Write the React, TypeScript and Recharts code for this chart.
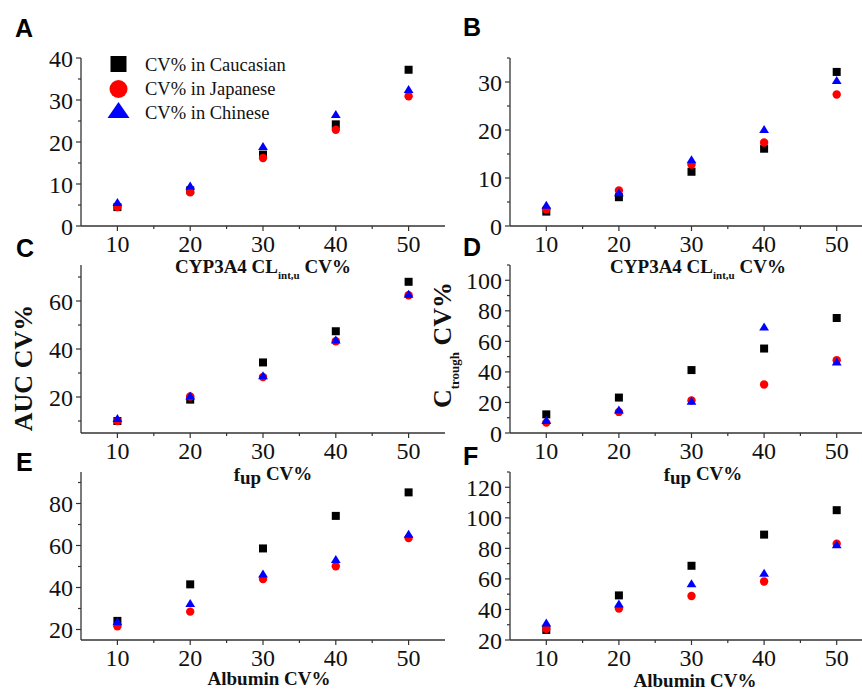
import React from "react";
import { ScatterChart, Scatter, XAxis, YAxis, Legend } from "recharts";

// shared x: CV% levels of the varied parameter
const cvLevels = [10, 20, 30, 40, 50];
const xTickValues = [10, 15, 20, 25, 30, 35, 40, 45, 50];
const xMajorTicks = [10, 20, 30, 40, 50];

// A: CYP3A4 CLint,u -> AUC CV%
const aCaucasian = [4.5, 8.5, 17.0, 24.2, 37.2];
const aJapanese = [4.5, 8.0, 16.2, 22.9, 30.9];
const aChinese = [5.5, 9.4, 18.8, 26.4, 32.4];
const aYTicks = [0, 5, 10, 15, 20, 25, 30, 35, 40];
const aYMajor = [0, 10, 20, 30, 40];

// B: CYP3A4 CLint,u -> Ctrough CV%
const bCaucasian = [3.0, 6.0, 11.3, 16.1, 32.1];
const bJapanese = [3.5, 7.4, 12.8, 17.4, 27.4];
const bChinese = [4.2, 6.8, 13.7, 20.0, 30.2];
const bYTicks = [0, 5, 10, 15, 20, 25, 30, 35];
const bYMajor = [0, 10, 20, 30];

// C: fup -> AUC CV%
const cCaucasian = [10.0, 18.9, 34.4, 47.4, 68.0];
const cJapanese = [10.0, 20.2, 28.3, 43.2, 62.4];
const cChinese = [10.8, 20.2, 28.6, 43.5, 62.6];
const cYTicks = [10, 20, 30, 40, 50, 60, 70];
const cYMajor = [20, 40, 60];

// D: fup -> Ctrough CV%
const dCaucasian = [12.2, 23.2, 41.2, 55.3, 75.3];
const dJapanese = [6.8, 13.8, 21.3, 31.8, 47.6];
const dChinese = [7.8, 14.8, 20.4, 69.0, 46.2];
const dYTicks = [0, 10, 20, 30, 40, 50, 60, 70, 80, 90, 100, 110];
const dYMajor = [0, 20, 40, 60, 80, 100];

// E: Albumin -> AUC CV%
const eCaucasian = [24.1, 41.5, 58.6, 74.1, 85.3];
const eJapanese = [21.5, 28.5, 44.0, 50.1, 63.6];
const eChinese = [23.4, 32.2, 46.2, 53.1, 65.1];
const eYTicks = [20, 30, 40, 50, 60, 70, 80, 90];
const eYMajor = [20, 40, 60, 80];

// F: Albumin -> Ctrough CV%
const fCaucasian = [26.6, 49.2, 68.6, 89.0, 105.0];
const fJapanese = [27.3, 40.6, 48.8, 58.3, 83.0];
const fChinese = [30.8, 43.2, 56.5, 63.4, 82.0];
const fYTicks = [20, 30, 40, 50, 60, 70, 80, 90, 100, 110, 120, 130];
const fYMajor = [20, 40, 60, 80, 100, 120];

const seriesNames = ["CV% in Caucasian", "CV% in Japanese", "CV% in Chinese"];

const AXIS = "#333";
const INK = "#111";
const SERIF = '"Liberation Serif", "Times New Roman", serif';
const SANS = '"Liberation Sans", Arial, sans-serif';

const Y_W = 70;
const M_TOP = 12;
const M_RIGHT = 12;
const X_H = 40;
const PLOT_H = 168;

const toPoints = (vals: number[]) => cvLevels.map((x, i) => ({ x, y: vals[i] }));

const Square = (p: any) => <rect x={p.cx - 4} y={p.cy - 4} width={8} height={8} fill="#000" />;
const Dot = (p: any) => <circle cx={p.cx} cy={p.cy} r={4.2} fill="#ff0000" />;
const Tri = (p: any) => (
  <polygon points={`${p.cx},${p.cy - 5} ${p.cx - 4.9},${p.cy + 3} ${p.cx + 4.9},${p.cy + 3}`} fill="#0000ff" />
);
const shapes = [Square, Dot, Tri];

const tickText = { fontFamily: SERIF, fontSize: 24, fontWeight: 400, fill: INK } as const;

const renderXTick = (p: any) => {
  const v = p.payload.value;
  const major = xMajorTicks.includes(v);
  return (
    <g>
      <line x1={p.x} x2={p.x} y1={p.y} y2={p.y + (major ? 5 : 3)} stroke={AXIS} strokeWidth={1.2} />
      {major && (
        <text x={p.x} y={p.y + 26} textAnchor="middle" fontFamily="Liberation Serif" style={tickText}>
          {v}
        </text>
      )}
    </g>
  );
};

const makeYTick = (majors: number[]) => (p: any) => {
  const v = p.payload.value;
  const major = majors.includes(v);
  return (
    <g>
      <line x1={p.x - (major ? 5 : 3)} x2={p.x} y1={p.y} y2={p.y} stroke={AXIS} strokeWidth={1.2} />
      {major && (
        <text x={p.x - 8} y={p.y + 8.5} textAnchor="end" fontFamily="Liberation Serif" style={tickText}>
          {v}
        </text>
      )}
    </g>
  );
};

const LegendBox = () => (
  <svg width={220} height={80} style={{ overflow: "visible" }}>
    <rect x={5.5} y={2} width={16} height={16} fill="#000" />
    <circle cx={13.5} cy={35} r={9} fill="#ff0000" />
    <polygon points="13.5,48 2.5,64 24.5,64" fill="#0000ff" />
    {seriesNames.map((n, i) => (
      <text key={n} x={40} y={17 + i * 24} style={{ fontFamily: SERIF, fontSize: 18.5, fill: INK }}>
        {n}
      </text>
    ))}
  </svg>
);

const panels = [
  { key: "A", left: 81, top: 58, plotW: 364, yDomain: [0, 40], yTicks: aYTicks, yMajor: aYMajor, series: [aCaucasian, aJapanese, aChinese], legend: true },
  { key: "B", left: 510, top: 58, plotW: 363, yDomain: [0, 35], yTicks: bYTicks, yMajor: bYMajor, series: [bCaucasian, bJapanese, bChinese] },
  { key: "C", left: 81, top: 265, plotW: 364, yDomain: [5, 75], yTicks: cYTicks, yMajor: cYMajor, series: [cCaucasian, cJapanese, cChinese] },
  { key: "D", left: 510, top: 265, plotW: 363, yDomain: [0, 110], yTicks: dYTicks, yMajor: dYMajor, series: [dCaucasian, dJapanese, dChinese] },
  { key: "E", left: 81, top: 472, plotW: 364, yDomain: [15, 95], yTicks: eYTicks, yMajor: eYMajor, series: [eCaucasian, eJapanese, eChinese] },
  { key: "F", left: 510, top: 472, plotW: 363, yDomain: [20, 130], yTicks: fYTicks, yMajor: fYMajor, series: [fCaucasian, fJapanese, fChinese] },
];

function Panel({ p }: { p: any }) {
  return (
    <div style={{ position: "absolute", left: p.left - Y_W, top: p.top - M_TOP }}>
      <ScatterChart
        width={Y_W + p.plotW + M_RIGHT}
        height={M_TOP + PLOT_H + X_H}
        margin={{ top: M_TOP, right: M_RIGHT, bottom: 0, left: 0 }}
      >
        <XAxis
          type="number"
          dataKey="x"
          domain={[5, 55]}
          ticks={xTickValues}
          interval={0}
          height={X_H}
          tickSize={0}
          tickMargin={0}
          tickLine={false}
          axisLine={{ stroke: AXIS, strokeWidth: 1.3 }}
          tick={renderXTick}
          allowDataOverflow
        />
        <YAxis
          type="number"
          dataKey="y"
          domain={p.yDomain}
          ticks={p.yTicks}
          interval={0}
          width={Y_W}
          tickSize={0}
          tickMargin={0}
          tickLine={false}
          axisLine={{ stroke: AXIS, strokeWidth: 1.3 }}
          tick={makeYTick(p.yMajor)}
          allowDataOverflow
        />
        {p.series.map((vals: number[], i: number) => (
          <Scatter
            key={seriesNames[i]}
            name={seriesNames[i]}
            data={toPoints(vals)}
            shape={shapes[i]}
            isAnimationActive={false}
          />
        ))}
        {p.legend && (
          <Legend
            layout="vertical"
            align="center"
            verticalAlign="middle"
            wrapperStyle={{ left: 94, top: 8, width: 220, height: 80 }}
            content={() => <LegendBox />}
          />
        )}
      </ScatterChart>
    </div>
  );
}

const letterStyle = { fontFamily: SANS, fontWeight: 700, fontSize: 25, fill: "#000" } as const;
const titleStyle = { fontFamily: SERIF, fontWeight: 700, fontSize: 19, fill: INK } as const;

export default function App() {
  return (
    <div style={{ position: "absolute", left: 0, top: 0, width: 862, height: 691, overflow: "hidden", background: "#fff" }}>
      {panels.map((p) => (
        <Panel key={p.key} p={p} />
      ))}
      <svg width={862} height={691} style={{ position: "absolute", left: 0, top: 0, pointerEvents: "none" }}>
        <text x={15} y={37} style={letterStyle}>A</text>
        <text x={463} y={36} style={letterStyle}>B</text>
        <text x={16} y={257} style={letterStyle}>C</text>
        <text x={463} y={256} style={letterStyle}>D</text>
        <text x={16} y={471} style={letterStyle}>E</text>
        <text x={463} y={465} style={letterStyle}>F</text>

        <text x={263} y={273} textAnchor="middle" style={titleStyle}>
          CYP3A4 CL<tspan dy={6} style={{ fontSize: 11 }}>int,u</tspan>
          <tspan dy={-6}>{" CV%"}</tspan>
        </text>
        <text x={698} y={273} textAnchor="middle" style={titleStyle}>
          CYP3A4 CL<tspan dy={6} style={{ fontSize: 11 }}>int,u</tspan>
          <tspan dy={-6}>{" CV%"}</tspan>
        </text>

        <text x={273} y={481} textAnchor="middle" style={titleStyle}>
          f<tspan dy={3}>up</tspan>
          <tspan dy={-4}>{" CV%"}</tspan>
        </text>
        <text x={703} y={481} textAnchor="middle" style={titleStyle}>
          f<tspan dy={3}>up</tspan>
          <tspan dy={-4}>{" CV%"}</tspan>
        </text>

        <text x={269} y={685} textAnchor="middle" style={titleStyle}>Albumin CV%</text>
        <text x={695} y={687} textAnchor="middle" style={titleStyle}>Albumin CV%</text>

        <text x={32} y={368} textAnchor="middle" transform="rotate(-90 32 368)" style={{ ...titleStyle, fontSize: 26 }}>
          AUC CV%
        </text>
        <text x={451} y={345} textAnchor="middle" transform="rotate(-90 451 345)" style={{ ...titleStyle, fontSize: 26 }}>
          C<tspan dy={8} style={{ fontSize: 13 }}>trough</tspan>
          <tspan dy={-8}>{" CV%"}</tspan>
        </text>
      </svg>
    </div>
  );
}
